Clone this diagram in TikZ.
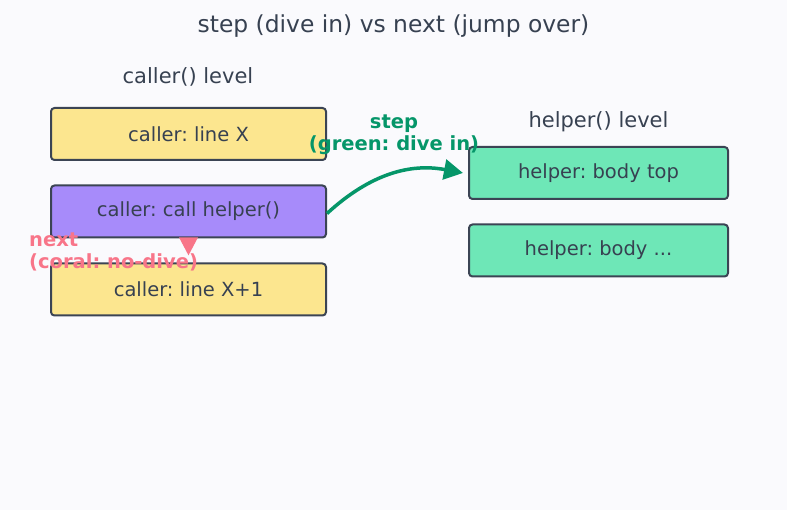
\documentclass[tikz,border=0pt]{standalone}
\usepackage{fontspec}
\setmainfont{DejaVu Sans}
\usetikzlibrary{arrows.meta}
\frenchspacing
\definecolor{bgc}{HTML}{FAFAFD}
\definecolor{ink}{HTML}{374151}
\definecolor{edge}{HTML}{3B4454}
\definecolor{yel}{HTML}{FCE68F}
\definecolor{pur}{HTML}{A78BFA}
\definecolor{grn}{HTML}{6EE7B7}
\definecolor{stepc}{HTML}{059669}
\definecolor{coral}{HTML}{F87589}
\tikzset{
  box/.style={draw=edge, line width=2pt, rounded corners=3.5pt, minimum height=52pt, text=ink, font=\fontsize{19.5}{22}\selectfont, inner sep=0pt},
  callerbox/.style={box, minimum width=275pt},
  helperbox/.style={box, minimum width=259pt, fill=grn},
  lvl/.style={text=ink, font=\fontsize{21}{24}\selectfont, inner sep=0pt},
  lbl/.style={font=\bfseries\fontsize{19.5}{22}\selectfont, inner sep=0pt},
}
\begin{document}
\begin{tikzpicture}[x=1pt,y=-1pt]
\fill[bgc] (0,0) rectangle (787,510);
\useasboundingbox (0,0) rectangle (787,510);
\node[text=ink, font=\fontsize{23.4}{26}\selectfont, inner sep=0pt] (title) at (393.5,26.5) {step (dive in) vs next (jump over)};
\node[lvl] (cl) at (188,77) {caller() level};
\node[lvl] (hl) at (598.5,122) {helper() level};
\node[callerbox, fill=yel] (lx) at (188.5,134) {caller: line X};
\node[callerbox, fill=pur] (call) at (188.5,211.5) {caller: call helper()};
\node[callerbox, fill=yel] (lx1) at (188.5,289.5) {caller: line X+1};
\node[helperbox] (top) at (598.5,173) {helper: body top};
\node[helperbox] (body) at (598.5,250.5) {helper: body ...};
\draw[stepc, line width=3.5pt, -{Triangle[length=19pt,width=20pt]}, line join=round] ([yshift=-2pt]call.east) .. controls (370,174) and (410,163) .. ([xshift=-5pt]top.west);
\node[lbl, text=stepc, align=center] (steplbl) at (394,135) {step\\(green: dive in)};
\draw[coral, line width=3pt, -{Triangle[length=18pt,width=18pt]}, shorten >=7pt] (call.south) -- (lx1.north);
\node[lbl, text=coral, align=left, anchor=west] (nextlbl) at (29,251.5) {next\\(coral: no-dive)};
\end{tikzpicture}
\end{document}
